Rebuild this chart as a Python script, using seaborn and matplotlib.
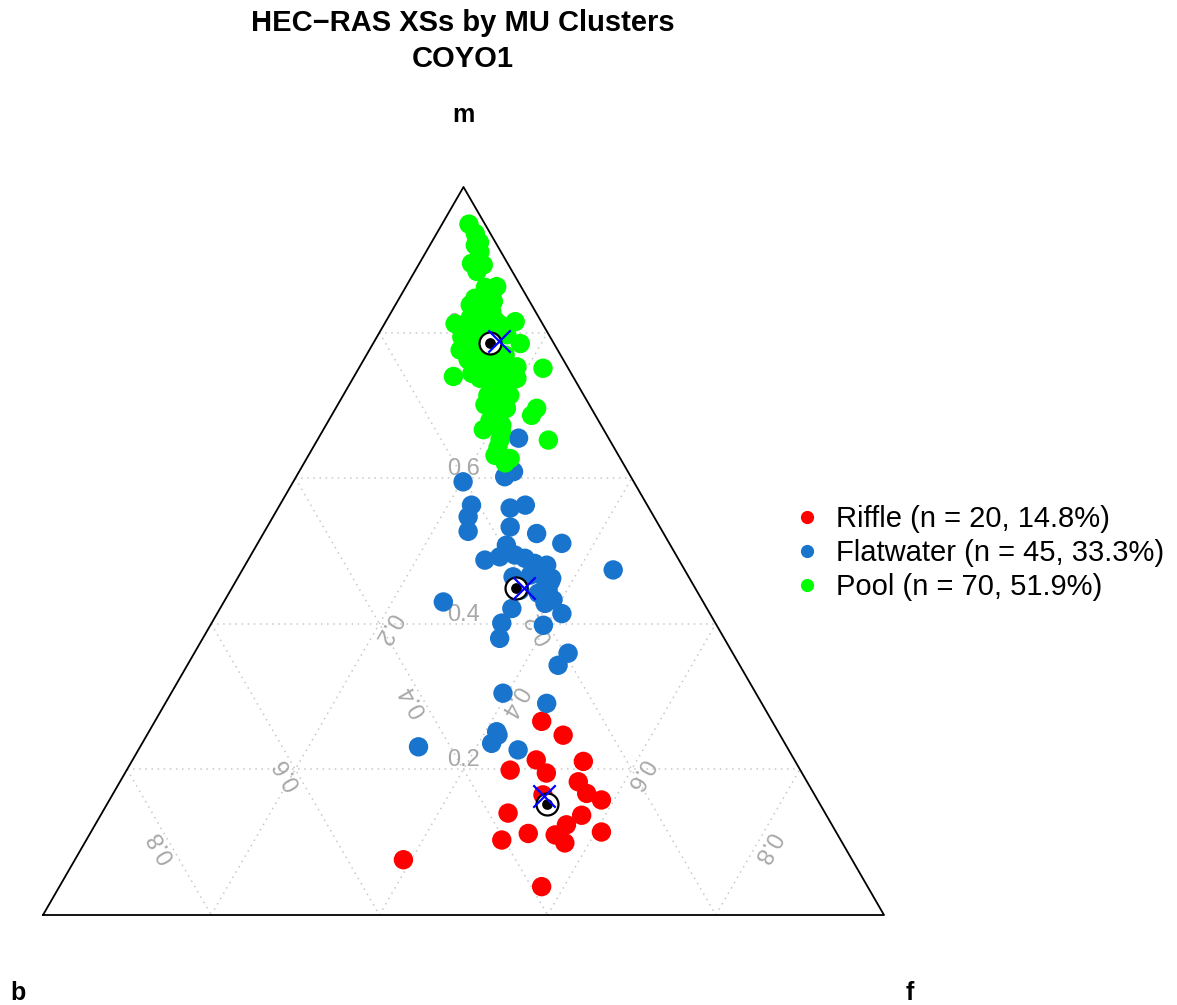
# ===============================
# IMPORT LIBRARIES
# ===============================
import numpy as np
import pandas as pd
import matplotlib
matplotlib.use("Agg")
import matplotlib.pyplot as plt
import seaborn as sns
from matplotlib.lines import Line2D

# ===============================
# GLOBAL STYLING
# ===============================
sns.set_theme(style="white")
plt.rcParams["font.family"] = ["Liberation Sans", "DejaVu Sans"]
plt.rcParams["text.color"] = "black"

# ===============================
# DATA (compositions b / m / f)
# ===============================
clusters = ["Riffle", "Flatwater", "Pool"]
cluster_counts = [20, 45, 70]
cluster_colors = ["#FF0000", "#1874CD", "#00FF00"]

riffle_b = [.274, .258, .307, .304, .345, .252, .272, .270, .257, .323,
            .377, .291, .316, .279, .403, .367, .336, .330, .534, .388]
riffle_m = [.266, .247, .213, .195, .199, .211, .183, .167, .158, .165,
            .140, .137, .124, .114, .103, .112, .110, .099, .076, .039]
riffle_f = [.460, .495, .480, .501, .456, .537, .545, .563, .585, .512,
            .483, .572, .561, .607, .494, .521, .554, .571, .391, .574]

flat_b = [.107, .150, .136, .203, .209, .221, .231, .165, .145, .178,
          .151, .128, .195, .231, .211, .192, .182, .174, .161, .164,
          .085, .209, .309, .174, .167, .190, .177, .189, .176, .232,
          .254, .267, .206, .196, .216, .301, .256, .335, .349, .322,
          .438, .210, .187, .176, .335]
flat_m = [.655, .602, .609, .595, .563, .547, .527, .559, .563, .533,
          .524, .511, .508, .488, .492, .495, .490, .483, .481, .463,
          .474, .465, .430, .467, .458, .442, .433, .428, .414, .421,
          .401, .380, .398, .360, .343, .305, .291, .252, .236, .227,
          .231, .446, .467, .446, .247]
flat_f = [.238, .248, .255, .202, .228, .232, .242, .276, .292, .289,
          .325, .362, .297, .282, .297, .314, .328, .343, .359, .374,
          .441, .327, .261, .360, .374, .368, .390, .383, .410, .347,
          .345, .353, .396, .445, .441, .395, .454, .414, .416, .452,
          .331, .344, .346, .377, .417]

pool_b = [.019, .018, .019, .025, .043, .030, .042, .029, .043, .058,
          .043, .069, .052, .104, .031, .097, .105, .090, .050, .040,
          .100, .118, .142, .060, .030, .093, .068, .105, .093, .104,
          .101, .115, .065, .076, .129, .118, .143, .123, .073, .147,
          .131, .140, .046, .063, .073, .066, .054, .082, .081, .069,
          .051, .103, .098, .086, .078, .066, .113, .091, .081, .112,
          .114, .109, .081, .088, .119, .124, .130, .138, .026, .116]
pool_m = [.949, .936, .924, .911, .895, .893, .884, .864, .862, .845,
          .843, .831, .829, .813, .815, .806, .794, .797, .797, .785,
          .760, .744, .739, .753, .751, .739, .737, .724, .719, .705,
          .696, .691, .696, .687, .680, .673, .666, .664, .653, .632,
          .627, .621, .852, .848, .838, .817, .817, .820, .804, .804,
          .810, .790, .776, .776, .769, .769, .762, .755, .751, .738,
          .714, .707, .735, .714, .694, .701, .653, .642, .920, .776]
pool_f = [.032, .046, .057, .064, .062, .077, .074, .108, .095, .097,
          .114, .100, .119, .084, .154, .097, .101, .113, .153, .175,
          .140, .138, .118, .187, .219, .168, .195, .172, .188, .191,
          .203, .194, .239, .238, .192, .209, .190, .213, .275, .222,
          .242, .239, .102, .090, .089, .117, .129, .098, .115, .127,
          .138, .107, .126, .138, .153, .165, .124, .154, .168, .151,
          .172, .184, .184, .198, .187, .175, .217, .220, .054, .108]

# cluster centres (circle) and second centre estimate (blue cross)
centre_b = [.324, .213, .076]
centre_m = [.153, .449, .786]
centre_f = [.523, .338, .139]
cross_b = [.322, .204, .064]
cross_m = [.164, .449, .789]
cross_f = [.514, .347, .148]

grid_levels = [0.2, 0.4, 0.6, 0.8]
grid_labels = ["0.2", "0.4", "0.6", "0.8"]

title = "HEC\u2212RAS XSs by MU Clusters"
subtitle = "COYO1"
vertex_names = ["b", "m", "f"]

# ===============================
# TERNARY -> CARTESIAN
# ===============================
H = np.sqrt(3) / 2


def tern_xy(b, m, f):
    b = np.asarray(b, float)
    m = np.asarray(m, float)
    f = np.asarray(f, float)
    s = b + m + f
    return (f + m / 2) / s, m * H / s


# ===============================
# FIGURE
# ===============================
W, HP = 1177, 1005
fig = plt.figure(figsize=(W / 100, HP / 100), dpi=100)
fig.patch.set_facecolor("white")
ax = fig.add_axes([43 / W, 90 / HP, 841 / W, 728 / HP])
ax.set_xlim(0, 1)
ax.set_ylim(0, H)
ax.axis("off")

# grid
grid_col = "#c8c8c8"
for t in grid_levels:
    for p0, p1 in [((1 - t, t, 0), (0, t, 1 - t)),
                   ((t, 1 - t, 0), (t, 0, 1 - t)),
                   ((1 - t, 0, t), (0, 1 - t, t))]:
        x0, y0 = tern_xy(*p0)
        x1, y1 = tern_xy(*p1)
        ax.plot([x0, x1], [y0, y1], color=grid_col, lw=1.1, ls=(0, (1, 3)), zorder=1)

# grid labels along the medians
d = 9 / 841
lab_col = "#a8a8a8"
for t, lab in zip(grid_levels, grid_labels):
    r = (1 - t) / 2
    x, y = tern_xy(r, t, r)
    ax.text(x, y + d, lab, color=lab_col, fontsize=17, ha="center", va="center", zorder=2)
    x, y = tern_xy(t, r, r)
    ax.text(x - d * 0.866, y - d * 0.5, lab, color=lab_col, fontsize=17, rotation=120,
            rotation_mode="anchor", ha="center", va="center", zorder=2)
    x, y = tern_xy(r, r, t)
    ax.text(x + d * 0.866, y - d * 0.5, lab, color=lab_col, fontsize=17, rotation=240,
            rotation_mode="anchor", ha="center", va="center", zorder=2)

# triangle
ax.plot([0, 1, 0.5, 0], [0, 0, H, 0], color="black", lw=1.3, zorder=2, clip_on=False)

# points
frames = []
for name, b, m, f in [("Riffle", riffle_b, riffle_m, riffle_f),
                      ("Flatwater", flat_b, flat_m, flat_f),
                      ("Pool", pool_b, pool_m, pool_f)]:
    x, y = tern_xy(b, m, f)
    frames.append(pd.DataFrame({"cluster": name, "x": x, "y": y}))
df = pd.concat(frames, ignore_index=True)

sns.scatterplot(data=df, x="x", y="y", hue="cluster", hue_order=clusters,
                palette=cluster_colors, s=195, linewidth=0, legend=False,
                ax=ax, zorder=3, clip_on=False)

# centres
cx, cy = tern_xy(centre_b, centre_m, centre_f)
ax.scatter(cx, cy, s=250, facecolors="white", edgecolors="black", linewidths=1.6, zorder=4)
ax.scatter(cx, cy, s=60, color="black", linewidths=0, zorder=5)
xx, xy = tern_xy(cross_b, cross_m, cross_f)
ax.scatter(xx, xy, s=260, marker="x", color="#0000FF", linewidths=1.6, zorder=6)

ax.set_xlabel("")
ax.set_ylabel("")

# ===============================
# TEXT
# ===============================
fig.text(463 / W, 1 - 31 / HP, title, ha="center", va="baseline", fontsize=21, fontweight="bold")
fig.text(463 / W, 1 - 67 / HP, subtitle, ha="center", va="baseline", fontsize=21, fontweight="bold")
fig.text(463 / W, 1 - 122 / HP, vertex_names[1], ha="center", va="baseline", fontsize=18, fontweight="bold")
fig.text(18 / W, 1 - 1000 / HP, vertex_names[0], ha="center", va="baseline", fontsize=18, fontweight="bold")
fig.text(910 / W, 1 - 1000 / HP, vertex_names[2], ha="center", va="baseline", fontsize=18, fontweight="bold")

# legend
total = sum(cluster_counts)
labels = [f"{n} (n = {k}, {100 * k / total:.1f}%)" for n, k in zip(clusters, cluster_counts)]
handles = [Line2D([], [], marker="o", linestyle="none", markersize=9.5,
                  markerfacecolor=c, markeredgewidth=0) for c in cluster_colors]
leg = fig.legend(handles, labels, loc="center left", bbox_to_anchor=(795 / W, 1 - 553 / HP),
                 frameon=False, fontsize=21, handlelength=0.8, handletextpad=0.6,
                 labelspacing=0.2, borderpad=0, borderaxespad=0)
for txt in leg.get_texts():
    txt.set_color("black")

fig.savefig("out.png", dpi=100)
